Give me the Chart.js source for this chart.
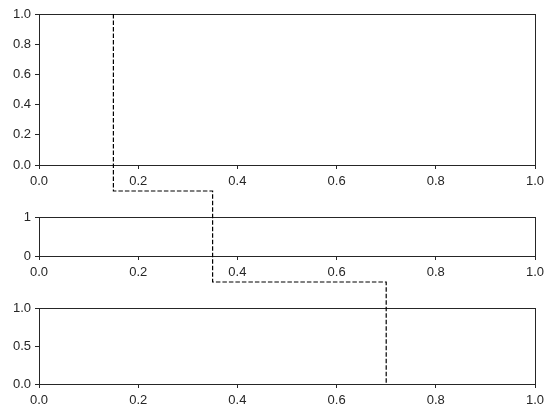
<!DOCTYPE html>
<html><head><meta charset="utf-8">
<script src="https://cdn.jsdelivr.net/npm/chart.js@4"></script>
<style>
html,body{margin:0;padding:0;background:#fff;}
#wrap{position:relative;width:554px;height:415px;overflow:hidden;background:#fff;}
#wrap canvas{position:absolute;left:0;top:0;}
</style></head><body>
<div id="wrap">
<canvas id="c1" width="554" height="415"></canvas>
<canvas id="c2" width="554" height="415"></canvas>
<canvas id="c3" width="554" height="415"></canvas>
<canvas id="c4" width="554" height="415"></canvas>
</div>
<script>
// ---- data ----
const xTicks = [0, 0.2, 0.4, 0.6, 0.8, 1.0];
const yTicksTop = [0, 0.2, 0.4, 0.6, 0.8, 1.0];
const yTicksMid = [0, 1];
const yTicksBot = [0, 0.5, 1.0];
const yDecimals = [1, 0, 1];
// connector: starts at top of first axes (y=1), ends at bottom of last axes (y=0)
const connectorX = [0.15, 0.35, 0.7];
const connectorStartY = 1;
const connectorEndY = 0;

// ---- layout / style ----
const W = 554, H = 415;
const LEFT = 39, RIGHT = 535, XH = 30;
const boxes = [{top:14, bottom:165}, {top:217, bottom:256}, {top:308, bottom:384}];
const INK = '#262626';
const FONT = '"Liberation Sans", Arial, sans-serif';
const FS = 13;

const frame = {
  id: 'frame',
  afterDraw(chart) {
    const a = chart.chartArea, ctx = chart.ctx;
    ctx.save();
    ctx.strokeStyle = INK; ctx.lineWidth = 1;
    const l = Math.round(a.left) + 0.5, t = Math.round(a.top) + 0.5;
    const r = Math.round(a.right) + 0.5, b = Math.round(a.bottom) + 0.5;
    ctx.strokeRect(l, t, r - l, b - t);
    ctx.restore();
  }
};

function makeAxes(id, yTicks, dec, box) {
  const tickGrid = {display:true, drawOnChartArea:false, drawTicks:true, tickLength:4, tickColor:INK, color:INK, lineWidth:1};
  return new Chart(document.getElementById(id), {
    type: 'scatter',
    data: {datasets: [{data: []}]},
    options: {
      responsive:false, animation:false, devicePixelRatio:1,
      layout:{padding:{left:0, right:W - RIGHT, top:box.top, bottom:H - box.bottom - XH}},
      plugins:{legend:{display:false}, tooltip:{enabled:false}},
      scales:{
        x:{type:'linear', min:0, max:1,
           afterBuildTicks: s => { s.ticks = xTicks.map(v => ({value:v})); },
           afterFit: s => { s.height = XH; },
           grid: tickGrid,
           border:{display:false},
           ticks:{color:INK, font:{family:FONT, size:FS}, padding:5, maxRotation:0, autoSkip:false,
                  callback: v => Number(v).toFixed(1)}},
        y:{type:'linear', min:0, max:1,
           afterBuildTicks: s => { s.ticks = yTicks.map(v => ({value:v})); },
           afterFit: s => { s.width = LEFT; },
           grid: tickGrid,
           border:{display:false},
           ticks:{color:INK, font:{family:FONT, size:FS}, padding:4, autoSkip:false,
                  callback: v => Number(v).toFixed(dec)}}
      }
    },
    plugins:[frame]
  });
}

const c1 = makeAxes('c1', yTicksTop, yDecimals[0], boxes[0]);
const c2 = makeAxes('c2', yTicksMid, yDecimals[1], boxes[1]);
const c3 = makeAxes('c3', yTicksBot, yDecimals[2], boxes[2]);

// connector path through the figure, built from the axes' own scales
const yStart = c1.scales.y.getPixelForValue(connectorStartY);
const gap1 = (c1.chartArea.bottom + c2.chartArea.top) / 2;
const gap2 = (c2.chartArea.bottom + c3.chartArea.top) / 2;
const yEnd = c3.scales.y.getPixelForValue(connectorEndY);
const levels = [yStart, gap1, gap2, yEnd];
const pts = [];
connectorX.forEach((x, i) => {
  pts.push({x: x, y: levels[i]});
  pts.push({x: x, y: levels[i + 1]});
});

new Chart(document.getElementById('c4'), {
  type: 'line',
  data: {datasets: [{data: pts, borderColor:'#000', borderWidth:1.2, borderDash:[4.5,2],
                     pointRadius:0, fill:false, tension:0}]},
  options: {
    responsive:false, animation:false, devicePixelRatio:1,
    layout:{padding:{left:LEFT, right:W - RIGHT, top:0, bottom:0}},
    plugins:{legend:{display:false}, tooltip:{enabled:false}},
    scales:{
      x:{type:'linear', min:0, max:1, display:false},
      y:{type:'linear', min:0, max:H, reverse:true, display:false}
    }
  }
});
</script>
</body></html>
